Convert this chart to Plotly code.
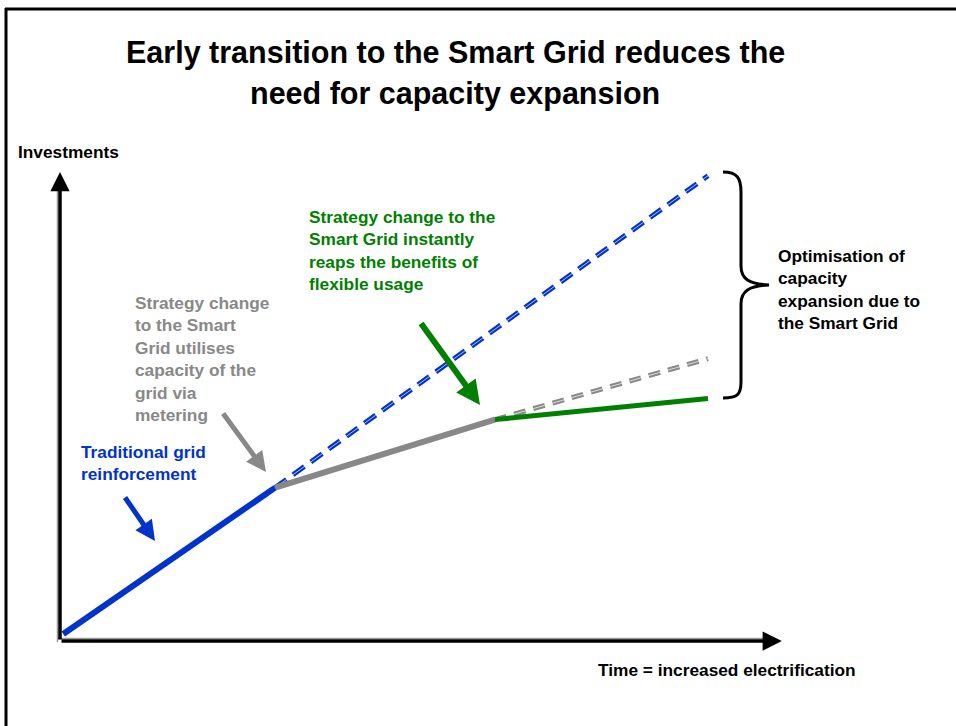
import plotly.graph_objects as go

W, H = 956, 726

# conceptual series (arbitrary units: time along x, investments along y)
time_pts = [0.05, 3.32, 6.71, 10.0]
traditional = [0.15, 3.27]          # blue, solid
metering = [3.27, 4.72]             # grey, solid
smart_grid = [4.72, 5.17]           # green, solid
traditional_cont = [3.27, 9.92]     # blue, dashed continuation
metering_cont = [4.72, 6.02]        # grey, dashed continuation
x_axis_end = 11.14
y_axis_end = 10.0

BLUE = "#0033CC"
GREY = "#888888"
GREEN = "#008000"
FONT = "Liberation Sans, Arial, sans-serif"

# axis origin on the page and scale (pixels per unit)
X0_PX, Y0_PX = 60, 641
XS, YS = 64.8, 46.9


def paper(px, py):
    return px / W, 1 - py / H


fig = go.Figure()

# Dashed continuations (drawn first, under the solid segments)
for xs, ys, col, dash in [
    (time_pts[1::2], traditional_cont, BLUE, "14px,8px"),
    (time_pts[2:4], metering_cont, GREY, "12px,8px"),
]:
    fig.add_trace(go.Scatter(x=xs, y=ys, mode="lines",
                             line=dict(color=col, width=5, dash=dash),
                             hoverinfo="skip", showlegend=False))
    fig.add_trace(go.Scatter(x=xs, y=ys, mode="lines",
                             line=dict(color="rgba(255,255,255,0.7)", width=1, dash=dash),
                             hoverinfo="skip", showlegend=False))

# Solid segments
fig.add_trace(go.Scatter(x=time_pts[0:2], y=traditional, mode="lines",
                         line=dict(color=BLUE, width=6), showlegend=False))
fig.add_trace(go.Scatter(x=time_pts[1:3], y=metering, mode="lines",
                         line=dict(color=GREY, width=6), showlegend=False))
fig.add_trace(go.Scatter(x=time_pts[2:4], y=smart_grid, mode="lines",
                         line=dict(color=GREEN, width=5), showlegend=False))

annotations = []

# Axis arrows
for tip_x, tip_y in [(0, y_axis_end), (x_axis_end, 0)]:
    annotations.append(dict(
        x=tip_x, y=tip_y, xref="x", yref="y",
        ax=0, ay=0, axref="x", ayref="y",
        showarrow=True, arrowhead=2, arrowsize=1.1, arrowwidth=3.5,
        arrowcolor="black", text=""))


def label(text, px, py, color="black", size=17.3, anchor="left"):
    x, y = paper(px, py)
    annotations.append(dict(
        x=x, y=y, xref="paper", yref="paper", text=text, showarrow=False,
        xanchor=anchor, yanchor="middle", align=anchor,
        font=dict(family=FONT, size=size, color=color)))


def pointer(head, tail, color, width):
    x, y = paper(*head)
    annotations.append(dict(
        x=x, y=y, xref="paper", yref="paper", text="",
        ax=tail[0] - head[0], ay=tail[1] - head[1],
        showarrow=True, arrowhead=2, arrowsize=0.8, arrowwidth=width,
        arrowcolor=color))


# Title
label("<b>Early transition to the Smart Grid reduces the</b>", 455, 52, size=30.5, anchor="center")
label("<b>need for capacity expansion</b>", 455, 93, size=30.5, anchor="center")

label("<b>Investments</b>", 16, 152)
label("<b>Time = increased electrification</b>", 596, 670)
label("<b>Traditional grid<br>reinforcement</b>", 79, 463, color=BLUE)
label("<b>Strategy change<br>to the Smart<br>Grid utilises<br>capacity of the<br>grid via<br>metering</b>",
      133, 359, color=GREY)
label("<b>Strategy change to the<br>Smart Grid instantly<br>reaps the benefits of<br>flexible usage</b>",
      307, 250.5, color=GREEN)
label("<b>Optimisation of<br>capacity<br>expansion due to<br>the Smart Grid</b>", 776, 289)

pointer((155, 541), (124, 496), BLUE, 5)
pointer((266, 472), (222, 412), GREY, 5)
pointer((480, 405), (420, 322), GREEN, 6)

# Curly brace
brace_px = [
    ("M", 723, 172), ("C", 737, 172, 741, 178), ("", 741, 192),
    ("L", 741, 266), ("C", 741, 279, 749, 284), ("", 769, 285),
    ("C", 749, 286, 741, 291), ("", 741, 304),
    ("L", 741, 382), ("C", 741, 395, 737, 398), ("", 723, 398),
]
path = ""
for seg in brace_px:
    cmd, pts = seg[0], seg[1:]
    coords = []
    for i in range(0, len(pts), 2):
        coords.append("%.5f,%.5f" % paper(pts[i], pts[i + 1]))
    path += cmd + " " + " ".join(coords) + " "

shapes = [
    dict(type="path", path=path.strip(), xref="paper", yref="paper",
         line=dict(color="black", width=3)),
    # page frame (top and left edges)
    dict(type="line", xref="paper", yref="paper",
         x0=5 / W, x1=1, y0=1 - 9 / H, y1=1 - 9 / H, line=dict(color="black", width=3)),
    dict(type="line", xref="paper", yref="paper",
         x0=6 / W, x1=6 / W, y0=1 - 8 / H, y1=0, line=dict(color="black", width=3)),
    # grey shadow along the axes
    dict(type="line", xref="paper", yref="paper",
         x0=57.5 / W, x1=57.5 / W, y0=1 - 190 / H, y1=1 - 642 / H, line=dict(color="#999999", width=1.5)),
    dict(type="line", xref="paper", yref="paper",
         x0=58 / W, x1=770 / W, y0=1 - 638.5 / H, y1=1 - 638.5 / H, line=dict(color="#999999", width=1.5)),
]

fig.update_layout(
    width=W, height=H,
    margin=dict(l=0, r=0, t=0, b=0),
    paper_bgcolor="white", plot_bgcolor="white",
    annotations=annotations, shapes=shapes,
    font=dict(family=FONT),
)

fig.update_xaxes(range=[-X0_PX / XS, (W - X0_PX) / XS], visible=False, fixedrange=True)
fig.update_yaxes(range=[-(H - Y0_PX) / YS, Y0_PX / YS], visible=False, fixedrange=True)

# the page body has a default 8px margin; drop it so the figure fills the window
fig.write_html("out.html", config={"displayModeBar": False},
               post_script="document.body.style.margin = '0px';")
